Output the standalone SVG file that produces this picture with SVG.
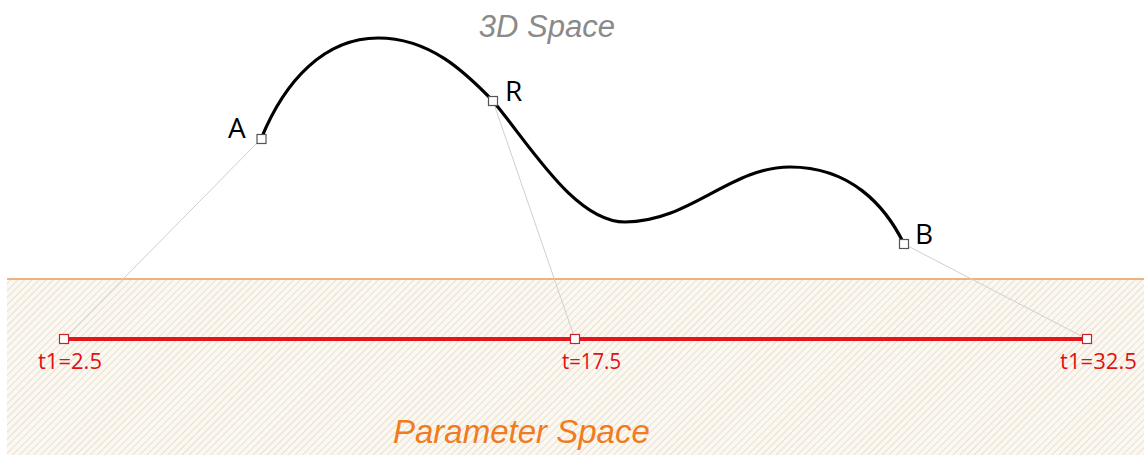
<svg xmlns="http://www.w3.org/2000/svg" width="1144" height="455" viewBox="0 0 1144 455">
<style>
.lbl{font-family:"Open Sans","Liberation Sans",sans-serif;font-size:28px;fill:#000}
.tl{font-family:"Open Sans","Liberation Sans",sans-serif;font-size:21px;fill:#e31010}
.title{font-family:"Liberation Sans",Arial,sans-serif;font-style:italic}
.pt{fill:#fff;stroke:#555;stroke-width:1.2}
.rpt{fill:#fff;stroke:#c8232b;stroke-width:1.2}
.guide{stroke:#cfcfcf;stroke-width:1;fill:none}
</style>
<defs>
<pattern id="hatch" width="5" height="5" patternUnits="userSpaceOnUse" patternTransform="rotate(45)">
<rect width="5" height="5" fill="#fbf8f2"/>
<line x1="0" y1="0" x2="0" y2="5" stroke="#e0d2be" stroke-width="1.3"/>
</pattern>
</defs>
<g id="parameter-space">
<rect x="7" y="279" width="1137" height="176" fill="url(#hatch)"/>
<line x1="7" y1="279" x2="1144" y2="279" stroke="#ef9a55" stroke-width="1.5"/>
<text class="title" x="393" y="443" font-size="33" fill="#f07c1e">Parameter Space</text>
</g>
<g id="title-3d">
<text class="title" x="615" y="37" text-anchor="end" font-size="31" fill="#8a8a8a">3D Space</text>
</g>
<g id="connectors">
<line class="guide" x1="261" y1="139" x2="64" y2="339"/>
<line class="guide" x1="493" y1="101" x2="575" y2="339"/>
<line class="guide" x1="904" y1="244" x2="1087" y2="339"/>
</g>
<g id="curve">
<path d="M261,139 C285,80 325,38 378,38 C430,38 465,72 493,101 C530,145 575,222 625,222 C690,222 730,167 790,167 C850,167 885,205 904,244" fill="none" stroke="#000" stroke-width="3.2"/>
</g>
<g id="param-line">
<line x1="64" y1="339" x2="1087" y2="339" stroke="#e8141a" stroke-width="4"/>
</g>
<g id="node-A">
<rect class="pt" x="257" y="134.5" width="9" height="9"/>
<text class="lbl" x="228" y="138">A</text>
</g>
<g id="node-R">
<rect class="pt" x="488.5" y="96.5" width="9" height="9"/>
<text class="lbl" x="505" y="101">R</text>
</g>
<g id="node-B">
<rect class="pt" x="899.5" y="239.5" width="9" height="9"/>
<text class="lbl" x="915" y="244">B</text>
</g>
<g id="node-t1">
<rect class="rpt" x="59.5" y="334.5" width="9" height="9"/>
<text class="tl" x="38" y="369" textLength="64" lengthAdjust="spacingAndGlyphs">t1=2.5</text>
</g>
<g id="node-t">
<rect class="rpt" x="570.5" y="334.5" width="9" height="9"/>
<text class="tl" x="562" y="369" textLength="59" lengthAdjust="spacingAndGlyphs">t=17.5</text>
</g>
<g id="node-t2">
<rect class="rpt" x="1082.5" y="334.5" width="9" height="9"/>
<text class="tl" x="1060" y="369" textLength="77" lengthAdjust="spacingAndGlyphs">t1=32.5</text>
</g>
</svg>
